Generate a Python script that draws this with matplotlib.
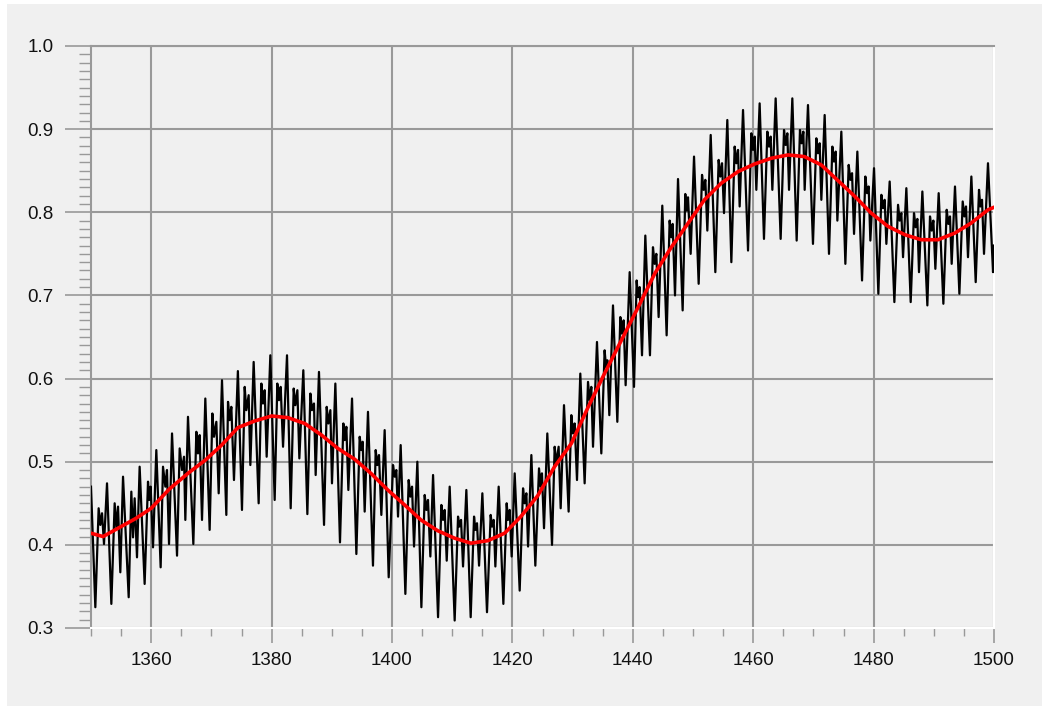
import matplotlib
matplotlib.use("Agg")
import matplotlib.pyplot as plt
from matplotlib.patches import Rectangle
from matplotlib.ticker import MultipleLocator

# ---- data: black (raw) series, read segment by segment ----
x_a = [1350.00, 1350.72, 1351.27, 1351.55, 1351.83, 1352.16, 1352.66, 1353.38, 1353.93, 1354.21,
       1354.49, 1354.87, 1355.32, 1356.26, 1356.70, 1356.98, 1357.25, 1357.64, 1358.08, 1358.91,
       1359.47, 1359.69, 1359.91, 1360.30, 1360.85, 1361.57, 1361.96, 1362.35, 1362.62, 1362.96,
       1363.46, 1364.29, 1364.73, 1365.12, 1365.45, 1365.67, 1366.11, 1367.00, 1367.50, 1367.77,
       1368.05, 1368.44, 1368.99, 1369.71, 1370.16, 1370.43, 1370.82, 1371.21, 1371.76, 1372.48,
       1372.76, 1373.03, 1373.31, 1373.75, 1374.40]
y_a = [0.470, 0.325, 0.444, 0.424, 0.438, 0.401, 0.474, 0.329, 0.450, 0.421,
       0.446, 0.367, 0.482, 0.337, 0.464, 0.409, 0.456, 0.385, 0.494, 0.353,
       0.476, 0.454, 0.470, 0.397, 0.514, 0.373, 0.494, 0.470, 0.490, 0.401,
       0.534, 0.387, 0.516, 0.490, 0.506, 0.430, 0.554, 0.401, 0.536, 0.510,
       0.532, 0.430, 0.576, 0.418, 0.558, 0.530, 0.548, 0.462, 0.598, 0.436,
       0.572, 0.550, 0.566, 0.478, 0.609]

x_b = [1375.08, 1375.53, 1375.80, 1376.19, 1376.47, 1377.02, 1377.85, 1378.30, 1378.57, 1378.85,
       1379.18, 1379.79, 1380.51, 1380.95, 1381.23, 1381.51, 1381.90, 1382.56, 1383.17, 1383.67,
       1383.94, 1384.28, 1384.61, 1385.27, 1385.94, 1386.44, 1386.71, 1387.04, 1387.32, 1387.87,
       1388.71, 1389.15, 1389.43, 1389.76, 1390.03, 1390.59, 1391.36, 1391.92, 1392.14, 1392.42,
       1392.75, 1393.36, 1394.08, 1394.63, 1394.91, 1395.13, 1395.46, 1396.01, 1396.84, 1397.29,
       1397.56, 1397.84, 1398.23, 1398.78, 1399.45]
y_b = [0.442, 0.590, 0.562, 0.580, 0.496, 0.620, 0.450, 0.594, 0.570, 0.586,
       0.506, 0.628, 0.454, 0.594, 0.574, 0.590, 0.518, 0.628, 0.444, 0.588,
       0.568, 0.586, 0.504, 0.610, 0.437, 0.582, 0.562, 0.570, 0.484, 0.608,
       0.424, 0.566, 0.546, 0.562, 0.474, 0.594, 0.403, 0.546, 0.526, 0.542,
       0.466, 0.576, 0.389, 0.530, 0.514, 0.524, 0.440, 0.560, 0.375, 0.514,
       0.496, 0.508, 0.436, 0.538, 0.361]

x_c = [1400.17, 1400.45, 1400.72, 1401.00, 1401.44, 1402.22, 1402.77, 1403.05, 1403.33, 1403.66,
       1404.21, 1404.88, 1405.43, 1405.71, 1405.98, 1406.37, 1406.82, 1407.65, 1408.20, 1408.48,
       1408.75, 1409.09, 1409.58, 1410.41, 1410.97, 1411.19, 1411.47, 1411.80, 1412.35, 1413.07,
       1413.63, 1413.85, 1414.12, 1414.46, 1415.01, 1415.78, 1416.39, 1416.62, 1416.89, 1417.17,
       1417.72, 1418.50, 1419.05, 1419.27, 1419.55, 1419.88, 1420.38, 1421.21, 1421.77, 1422.04,
       1422.32, 1422.60, 1423.15, 1423.81]
y_c = [0.496, 0.482, 0.490, 0.434, 0.520, 0.341, 0.478, 0.458, 0.470, 0.398,
       0.500, 0.325, 0.460, 0.442, 0.454, 0.386, 0.484, 0.313, 0.448, 0.430,
       0.442, 0.381, 0.470, 0.309, 0.434, 0.422, 0.430, 0.374, 0.466, 0.313,
       0.434, 0.418, 0.426, 0.375, 0.462, 0.319, 0.436, 0.422, 0.430, 0.374,
       0.470, 0.329, 0.450, 0.430, 0.442, 0.386, 0.486, 0.345, 0.468, 0.450,
       0.462, 0.398, 0.508, 0.375]

x_d = [1424.42, 1424.69, 1424.91, 1425.25, 1425.80, 1426.58, 1427.02, 1427.30, 1427.68, 1428.02,
       1428.57, 1429.34, 1429.79, 1430.06, 1430.34, 1430.73, 1431.28, 1432.00, 1432.56, 1432.83,
       1433.11, 1433.39, 1434.05, 1434.77, 1435.32, 1435.55, 1435.77, 1436.10, 1436.71, 1437.43,
       1437.93, 1438.20, 1438.48, 1438.81, 1439.48, 1440.20, 1440.64, 1440.86, 1441.14, 1441.53,
       1442.08, 1442.85, 1443.35, 1443.63, 1443.91, 1444.29, 1444.90, 1445.62, 1446.12, 1446.40,
       1446.62, 1447.01, 1447.51, 1448.28, 1448.72, 1448.95, 1449.17]
y_d = [0.492, 0.470, 0.486, 0.420, 0.534, 0.400, 0.518, 0.498, 0.518, 0.444,
       0.568, 0.440, 0.556, 0.534, 0.546, 0.478, 0.606, 0.474, 0.596, 0.574,
       0.590, 0.518, 0.644, 0.510, 0.634, 0.614, 0.622, 0.556, 0.688, 0.548,
       0.674, 0.654, 0.670, 0.592, 0.728, 0.590, 0.718, 0.698, 0.710, 0.628,
       0.772, 0.628, 0.758, 0.738, 0.750, 0.674, 0.808, 0.652, 0.790, 0.770,
       0.786, 0.700, 0.840, 0.682, 0.822, 0.802, 0.818]

x_e = [1449.61, 1450.17, 1450.94, 1451.50, 1451.77, 1452.05, 1452.38, 1452.94, 1453.71, 1454.26,
       1454.54, 1454.82, 1455.15, 1455.70, 1456.37, 1456.92, 1457.20, 1457.48, 1457.75, 1458.31,
       1459.14, 1459.69, 1459.97, 1460.24, 1460.52, 1461.07, 1461.79, 1462.35, 1462.63, 1462.90,
       1463.18, 1463.73, 1464.56, 1465.12, 1465.39, 1465.67, 1465.95, 1466.50, 1467.22, 1467.77,
       1468.05, 1468.33, 1468.55, 1469.10, 1469.93, 1470.49, 1470.76, 1471.04, 1471.32, 1471.87,
       1472.59, 1473.15, 1473.42, 1473.70, 1473.98]
y_e = [0.750, 0.867, 0.714, 0.845, 0.827, 0.839, 0.778, 0.893, 0.728, 0.863,
       0.843, 0.859, 0.799, 0.911, 0.740, 0.879, 0.859, 0.875, 0.807, 0.923,
       0.754, 0.895, 0.875, 0.891, 0.827, 0.931, 0.768, 0.897, 0.879, 0.891,
       0.827, 0.937, 0.768, 0.899, 0.881, 0.895, 0.827, 0.937, 0.766, 0.899,
       0.883, 0.897, 0.827, 0.929, 0.762, 0.889, 0.871, 0.883, 0.815, 0.917,
       0.750, 0.879, 0.861, 0.873, 0.790]

x_f = [1474.64, 1475.31, 1475.86, 1476.14, 1476.42, 1476.75, 1477.30, 1478.08, 1478.63, 1478.91,
       1479.18, 1479.46, 1480.07, 1480.79, 1481.29, 1481.57, 1481.84, 1482.12, 1482.67, 1483.45,
       1484.06, 1484.33, 1484.61, 1484.89, 1485.44, 1486.16, 1486.71, 1486.99, 1487.27, 1487.54,
       1488.10, 1488.93, 1489.37, 1489.65, 1489.93, 1490.26, 1490.81, 1491.59, 1492.14, 1492.42,
       1492.69, 1492.97, 1493.52, 1494.25, 1494.80, 1495.08, 1495.35, 1495.68, 1496.24, 1496.96,
       1497.51, 1497.73, 1498.01, 1498.34, 1499.00, 1499.84, 1500.00]
y_f = [0.897, 0.738, 0.857, 0.839, 0.847, 0.774, 0.873, 0.718, 0.843, 0.823,
       0.831, 0.766, 0.853, 0.702, 0.821, 0.805, 0.815, 0.762, 0.837, 0.692,
       0.809, 0.790, 0.799, 0.746, 0.829, 0.692, 0.799, 0.782, 0.792, 0.728,
       0.825, 0.688, 0.795, 0.778, 0.790, 0.732, 0.823, 0.690, 0.803, 0.786,
       0.795, 0.738, 0.831, 0.702, 0.813, 0.795, 0.807, 0.746, 0.843, 0.716,
       0.827, 0.807, 0.815, 0.750, 0.859, 0.728, 0.760]

# ---- data: red (smoothed) series ----
x_red = [1350.0, 1352.0, 1355.0, 1357.5, 1360.0, 1363.0, 1366.1, 1369.0, 1371.7, 1374.4,
         1377.2, 1380.0, 1382.7, 1385.5, 1388.3, 1391.0, 1393.8, 1396.5, 1399.3, 1402.1,
         1404.8, 1407.6, 1410.4, 1413.1, 1415.9, 1418.7, 1421.4, 1424.2, 1427.0, 1429.8,
         1432.6, 1435.3, 1438.1, 1440.9, 1443.7, 1446.4, 1449.2, 1451.9, 1454.7, 1457.5,
         1460.2, 1463.0, 1465.8, 1468.5, 1471.3, 1474.1, 1476.9, 1479.6, 1482.4, 1485.2,
         1487.9, 1490.7, 1493.5, 1496.2, 1499.0, 1500.0]
y_red = [0.414, 0.410, 0.422, 0.432, 0.444, 0.467, 0.486, 0.502, 0.520, 0.541,
         0.549, 0.555, 0.553, 0.546, 0.532, 0.516, 0.503, 0.486, 0.466, 0.448,
         0.430, 0.417, 0.408, 0.402, 0.405, 0.414, 0.434, 0.459, 0.494, 0.522,
         0.566, 0.606, 0.646, 0.686, 0.727, 0.758, 0.787, 0.815, 0.835, 0.849,
         0.858, 0.865, 0.869, 0.867, 0.857, 0.838, 0.819, 0.799, 0.783, 0.773,
         0.767, 0.767, 0.775, 0.787, 0.803, 0.806]

x_major = [1360, 1380, 1400, 1420, 1440, 1460, 1480, 1500]
x_labels = ["1360", "1380", "1400", "1420", "1440", "1460", "1480", "1500"]
y_major = [0.3, 0.4, 0.5, 0.6, 0.7, 0.8, 0.9, 1.0]
y_labels = ["0.3", "0.4", "0.5", "0.6", "0.7", "0.8", "0.9", "1.0"]

bx = x_a + x_b + x_c + x_d + x_e + x_f
by = y_a + y_b + y_c + y_d + y_e + y_f

plt.rcParams['font.family'] = ['Liberation Sans', 'DejaVu Sans']

W, H = 1049, 710
fig = plt.figure(figsize=(W / 100, H / 100), dpi=100)
fig.patch.set_facecolor('white')
fig.patches.append(Rectangle((7 / W, 4 / H), (1042 - 7) / W, (706 - 4) / H,
                             transform=fig.transFigure, facecolor='#f0f0f0',
                             edgecolor='none', zorder=-10))

ax = fig.add_axes([91 / W, 1 - 628 / H, (994 - 91) / W, (628 - 46) / H])
ax.set_facecolor('#f0f0f0')
ax.set_xlim(1350, 1500)
ax.set_ylim(0.3, 1.0)

gcol = '#999999'
ax.set_xticks(x_major)
ax.set_xticklabels(x_labels)
ax.set_yticks(y_major)
ax.set_yticklabels(y_labels)
ax.xaxis.set_minor_locator(MultipleLocator(5))
ax.yaxis.set_minor_locator(MultipleLocator(0.01))
ax.grid(True, which='major', color=gcol, linewidth=1.5)
ax.set_axisbelow(True)

ax.tick_params(axis='y', which='major', length=19, width=1.2, color=gcol,
               direction='out', pad=8, labelsize=13.5, labelcolor='#111111')
ax.tick_params(axis='y', which='minor', length=9, width=1.0, color=gcol, direction='out')
ax.tick_params(axis='x', which='major', length=11, width=1.2, color=gcol,
               direction='out', pad=6, labelsize=13.5, labelcolor='#111111')
ax.tick_params(axis='x', which='minor', length=6, width=1.0, color=gcol, direction='out')

ax.spines['left'].set_color(gcol)
ax.spines['left'].set_linewidth(1.5)
ax.spines['bottom'].set_color('white')
ax.spines['bottom'].set_linewidth(1.5)
ax.spines['right'].set_color('white')
ax.spines['right'].set_linewidth(1.5)
ax.spines['top'].set_color(gcol)
ax.spines['top'].set_linewidth(1.5)

ax.plot(bx, by, color='black', linewidth=1.6, zorder=3)
ax.plot(x_red, y_red, color='#ff0000', linewidth=2.6, zorder=4)

fig.savefig('out.png', dpi=100, facecolor=fig.get_facecolor())
